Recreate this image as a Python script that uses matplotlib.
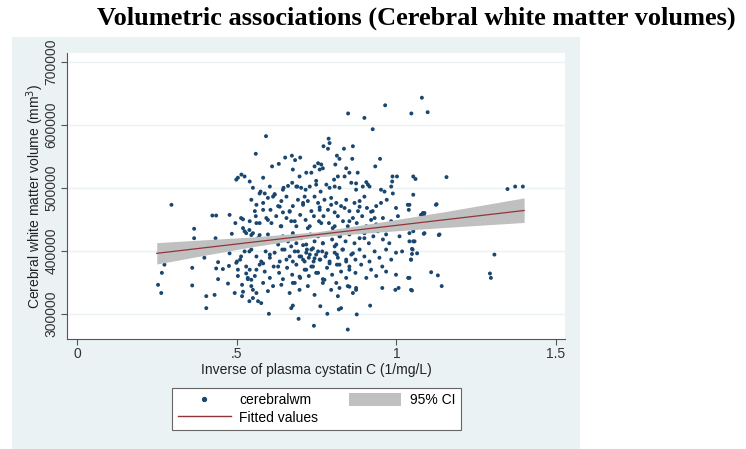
import numpy as np
import matplotlib
matplotlib.use("Agg")
import matplotlib.pyplot as plt
from matplotlib.patches import Rectangle, Patch
from matplotlib.lines import Line2D

# points: (inverse plasma cystatin C, volume in 1000 mm3)
left_pts = [
    (0.296, 473), (0.254, 346), (0.264, 333), (0.266, 365), (0.274, 378), (0.367, 435),
    (0.367, 420), (0.361, 373), (0.361, 345), (0.399, 389), (0.405, 328), (0.405, 309),
    (0.424, 456), (0.436, 456), (0.434, 420), (0.442, 382), (0.436, 372), (0.442, 355),
    (0.431, 330), (0.457, 371), (0.478, 457), (0.476, 376), (0.473, 348), (0.485, 427),
    (0.496, 444), (0.494, 333), (0.499, 513), (0.504, 516), (0.515, 521), (0.525, 518),
    (0.501, 383), (0.504, 370), (0.511, 386), (0.504, 360), (0.517, 328), (0.517, 346),
    (0.520, 450), (0.525, 431), (0.523, 417), (0.530, 375), (0.535, 355), (0.478, 396),
    (0.514, 452), (0.520, 436), (0.530, 428), (0.540, 433), (0.546, 425), (0.499, 381),
    (0.514, 391), (0.525, 399), (0.540, 399), (0.530, 364), (0.520, 335), (0.540, 320),
    (0.535, 357), (0.546, 354), (0.551, 338),
]

top_pts = [
    (1.080, 643), (0.965, 631), (0.849, 618), (0.900, 611), (1.047, 618), (1.098, 620),
    (0.926, 593), (0.592, 582), (0.788, 578), (0.791, 571), (0.772, 566), (0.786, 562),
    (0.560, 554), (0.836, 562), (0.864, 566), (0.652, 548), (0.673, 551), (0.699, 548),
    (0.683, 544), (0.814, 551), (0.822, 546), (0.949, 546), (0.862, 546),
    (0.611, 534), (0.632, 538), (0.676, 529), (0.734, 524), (0.744, 534), (0.755, 539),
    (0.765, 537), (0.760, 529), (0.770, 531), (0.809, 537), (0.843, 531), (0.853, 524),
    (0.879, 524), (0.934, 534), (0.988, 518), (1.002, 518), (1.053, 518), (1.157, 517),
    (0.697, 518), (0.718, 524), (0.583, 516), (0.817, 518), (1.060, 514),
]

upper_pts = [
    (0.541, 510), (0.551, 500), (0.575, 494), (0.588, 491), (0.619, 490), (0.647, 500),
    (0.661, 503), (0.674, 508), (0.690, 502), (0.702, 500), (0.716, 497), (0.729, 502),
    (0.749, 505), (0.781, 505), (0.791, 500), (0.805, 513), (0.838, 518), (0.859, 508),
    (0.874, 497), (0.895, 502), (0.911, 505), (0.916, 502), (0.952, 497), (0.963, 494),
    (0.987, 510), (0.984, 502), (1.053, 489), (0.822, 500), (0.763, 494), (0.604, 502),
    (0.546, 481), (0.562, 473), (0.583, 476), (0.598, 484), (0.614, 486), (0.630, 471),
    (0.640, 479), (0.656, 486), (0.676, 471), (0.666, 463), (0.692, 481), (0.708, 473),
    (0.713, 486), (0.723, 479), (0.744, 486), (0.755, 476), (0.760, 465), (0.775, 481),
    (0.796, 484), (0.812, 476), (0.827, 471), (0.843, 481), (0.853, 463), (0.869, 476),
    (0.885, 479), (0.900, 486), (0.908, 468), (0.926, 463), (0.937, 471), (0.952, 476),
    (0.970, 481), (0.989, 491), (0.999, 468), (1.036, 473), (1.039, 465), (1.124, 473),
    (1.083, 460), (0.557, 463), (0.606, 465), (0.645, 461), (0.734, 463), (0.786, 465),
    (0.807, 461), (0.880, 463), (1.041, 473), (1.126, 474),
]

middle_pts = [
    (0.541, 447), (0.560, 455), (0.572, 444), (0.593, 452), (0.609, 444), (0.624, 455),
    (0.638, 439), (0.656, 452), (0.671, 447), (0.687, 439), (0.699, 457), (0.716, 449),
    (0.729, 439), (0.742, 455), (0.758, 447), (0.772, 455), (0.789, 444), (0.801, 436),
    (0.817, 455), (0.833, 447), (0.848, 439), (0.864, 452), (0.876, 444), (0.893, 455),
    (0.906, 439), (0.921, 449), (0.937, 442), (0.958, 452), (0.968, 436), (0.984, 447),
    (1.005, 455), (1.020, 444), (1.051, 445), (1.088, 460), (1.143, 457), (1.077, 457),
    (1.086, 457),
    (0.551, 428), (0.567, 420), (0.583, 412), (0.598, 426), (0.614, 418), (0.630, 410),
    (0.645, 423), (0.661, 415), (0.676, 428), (0.687, 412), (0.702, 420), (0.718, 410),
    (0.731, 426), (0.744, 415), (0.755, 423), (0.770, 412), (0.786, 428), (0.799, 418),
    (0.812, 410), (0.824, 423), (0.841, 415), (0.853, 426), (0.869, 412), (0.885, 420),
    (0.900, 428), (0.914, 412), (0.928, 423), (0.942, 431), (0.958, 418), (0.968, 426),
    (0.978, 412), (1.010, 423), (1.041, 428), (1.053, 415), (1.088, 428), (1.135, 426),
    (1.086, 427), (1.133, 425), (1.053, 431),
]

lower_pts = [
    (0.546, 402), (0.562, 391), (0.577, 383), (0.591, 399), (0.604, 389), (0.619, 397),
    (0.635, 383), (0.650, 402), (0.666, 391), (0.676, 383), (0.692, 399), (0.702, 391),
    (0.708, 386), (0.718, 397), (0.726, 389), (0.734, 402), (0.741, 383), (0.749, 394),
    (0.760, 386), (0.768, 399), (0.778, 391), (0.791, 383), (0.807, 397), (0.817, 389),
    (0.831, 402), (0.843, 383), (0.859, 394), (0.872, 386), (0.885, 402), (0.900, 391),
    (0.916, 383), (0.932, 399), (0.947, 389), (0.968, 402), (0.984, 386), (0.999, 397),
    (1.018, 399), (1.046, 386), (1.051, 402), (1.049, 395), (1.065, 396), (1.049, 403),
    (1.041, 415), (1.057, 415), (1.307, 394),
    (0.541, 370), (0.557, 360), (0.572, 378), (0.588, 367), (0.604, 357), (0.616, 375),
    (0.633, 365), (0.645, 355), (0.658, 373), (0.674, 362), (0.687, 378), (0.699, 357),
    (0.713, 370), (0.726, 360), (0.739, 375), (0.755, 365), (0.770, 355), (0.783, 373),
    (0.799, 362), (0.814, 378), (0.827, 367), (0.843, 357), (0.853, 375), (0.872, 365),
    (0.890, 378), (0.906, 357), (0.921, 370), (0.937, 360), (0.956, 375), (0.968, 367),
    (0.999, 362), (1.037, 357), (1.109, 366), (1.130, 361), (1.293, 364), (1.296, 357),
    (1.046, 386), (1.041, 357),
]

bottom_pts = [
    (0.546, 344), (0.562, 333), (0.583, 349), (0.598, 336), (0.614, 344), (0.640, 346),
    (0.666, 333), (0.682, 349), (0.697, 338), (0.723, 344), (0.744, 330), (0.770, 349),
    (0.796, 338), (0.817, 328), (0.822, 341), (0.848, 344), (0.864, 333), (0.874, 341),
    (0.956, 341), (0.997, 338), (1.007, 341), (1.046, 338), (1.142, 344), (1.049, 337),
    (0.551, 325), (0.567, 320), (0.577, 317), (0.601, 300), (0.671, 309), (0.676, 313),
    (0.694, 292), (0.742, 281), (0.762, 312), (0.784, 300), (0.820, 307), (0.827, 309),
    (0.848, 275), (0.876, 299), (0.918, 313),
]

core_pts = [
    (0.708, 409), (0.720, 402), (0.729, 394), (0.739, 404), (0.744, 388), (0.755, 399),
    (0.762, 386), (0.713, 383), (0.697, 391), (0.682, 399), (0.671, 407), (0.770, 412),
    (0.781, 396), (0.791, 380), (0.734, 375), (0.718, 370), (0.749, 365), (0.807, 407),
    (0.814, 394), (0.822, 378), (0.833, 402), (0.843, 386), (0.853, 370), (0.864, 396),
    (0.643, 402), (0.656, 386), (0.630, 375), (0.604, 394), (0.583, 380), (0.562, 370),
    (0.697, 359), (0.676, 349), (0.775, 354), (0.812, 349), (0.853, 343), (0.874, 338),
    (0.572, 491), (0.619, 489), (0.645, 497), (0.687, 502), (0.749, 511), (0.807, 502),
    (0.874, 507), (0.906, 509), (0.583, 465), (0.635, 470), (0.666, 462), (0.708, 476),
    (0.760, 469), (0.796, 473), (0.838, 468), (0.885, 470), (0.921, 462), (0.562, 444),
    (0.598, 449), (0.640, 439), (0.682, 447), (0.723, 436), (0.765, 444), (0.807, 439),
    (0.853, 447), (0.895, 433), (0.932, 452), (0.572, 425), (0.666, 422), (0.739, 425),
    (0.822, 423), (0.900, 420),
]

far_right_pts = [(1.348, 498), (1.372, 502), (1.396, 502)]

# linear fit and its 95% CI
fit_x = [0.25, 1.40]
fit_y = [396000, 464000]
ci_x = [0.25, 0.40, 0.55, 0.75, 0.95, 1.15, 1.40]
ci_lo = [379000, 393000, 406500, 422000, 430000, 437000, 445000]
ci_hi = [413000, 417500, 422000, 430000, 445500, 462000, 484000]

y_ticks = [300000, 400000, 500000, 600000, 700000]
x_ticks = [0, 0.5, 1, 1.5]
x_tick_labels = ["0", ".5", "1", "1.5"]

all_pts = left_pts + top_pts + upper_pts + middle_pts + lower_pts + bottom_pts + core_pts + far_right_pts
wm_x = np.array([p[0] for p in all_pts])
wm_y = np.array([p[1] for p in all_pts]) * 1000

plt.rcParams["font.family"] = ["Liberation Sans", "DejaVu Sans"]
fs = 10

fig = plt.figure(figsize=(7.46, 4.49), dpi=100)
fig.patch.set_facecolor("white")
panel_bg = "#eaf2f3"
# light panel behind the graph region (drawn under the axes)
fig.patches.append(Rectangle((12 / 746, 0), (580 - 12) / 746, 1 - 37 / 449,
                             transform=fig.transFigure, facecolor=panel_bg,
                             edgecolor="none", zorder=-5))

ax = fig.add_axes([67 / 746, 1 - 339 / 449, (565 - 67) / 746, (339 - 53) / 449])
ax.set_facecolor("white")

navy = "#1a476f"
maroon = "#90353b"

ax.scatter(wm_x, wm_y, s=8, color=navy, edgecolors="none", zorder=2)
ax.fill_between(ci_x, ci_lo, ci_hi, color="#c0c0c0", linewidth=0, zorder=3)
ax.plot(fit_x, fit_y, color=maroon, lw=0.9, zorder=4)

ax.set_xlim(-0.031, 1.528)
ax.set_ylim(260000, 714000)
ax.set_yticks(y_ticks)
ax.set_yticklabels([str(v) for v in y_ticks], rotation=90, va="center", fontsize=fs)
ax.set_xticks(x_ticks)
ax.set_xticklabels(x_tick_labels, fontsize=fs)
for yv in y_ticks:
    ax.axhline(yv, color=panel_bg, lw=1.0, zorder=1)

for side in ("top", "right"):
    ax.spines[side].set_visible(False)
for side in ("left", "bottom"):
    ax.spines[side].set_color("#555555")
    ax.spines[side].set_linewidth(0.8)
ax.tick_params(axis="both", colors="#555555", length=4, width=0.8, labelcolor="#333333", pad=2)

ax.set_xlabel("Inverse of plasma cystatin C (1/mg/L)", fontsize=fs, color="#222222", labelpad=1)
ax.set_ylabel("Cerebral white matter volume (mm$^3$)", fontsize=fs, color="#222222")
ax.yaxis.set_label_coords(-0.043, 0.5)

fig.text(416 / 746, 1 - 18 / 449, "Volumetric associations (Cerebral white matter volumes)",
         ha="center", va="center", fontsize=19, fontweight="bold",
         family=["Liberation Serif", "DejaVu Serif"])

handles = [
    Line2D([], [], marker="o", linestyle="none", color=navy, markersize=2.8),
    Line2D([], [], color=maroon, lw=1.0),
    Patch(facecolor="#c0c0c0", edgecolor="none"),
]
labels = ["cerebralwm", "Fitted values", "95% CI"]
leg = fig.legend(handles, labels, ncol=2, loc="center",
                 bbox_to_anchor=(316.5 / 746, 1 - 409 / 449),
                 fontsize=fs, frameon=True, fancybox=False,
                 handlelength=3.8, handleheight=1.0, handletextpad=0.6, columnspacing=2.2,
                 labelspacing=0.25, borderpad=0.4)
leg.get_frame().set_edgecolor("#666666")
leg.get_frame().set_linewidth(0.8)
leg.get_frame().set_facecolor("white")
leg.get_frame().set_alpha(1)

fig.savefig("out.png", dpi=100)
